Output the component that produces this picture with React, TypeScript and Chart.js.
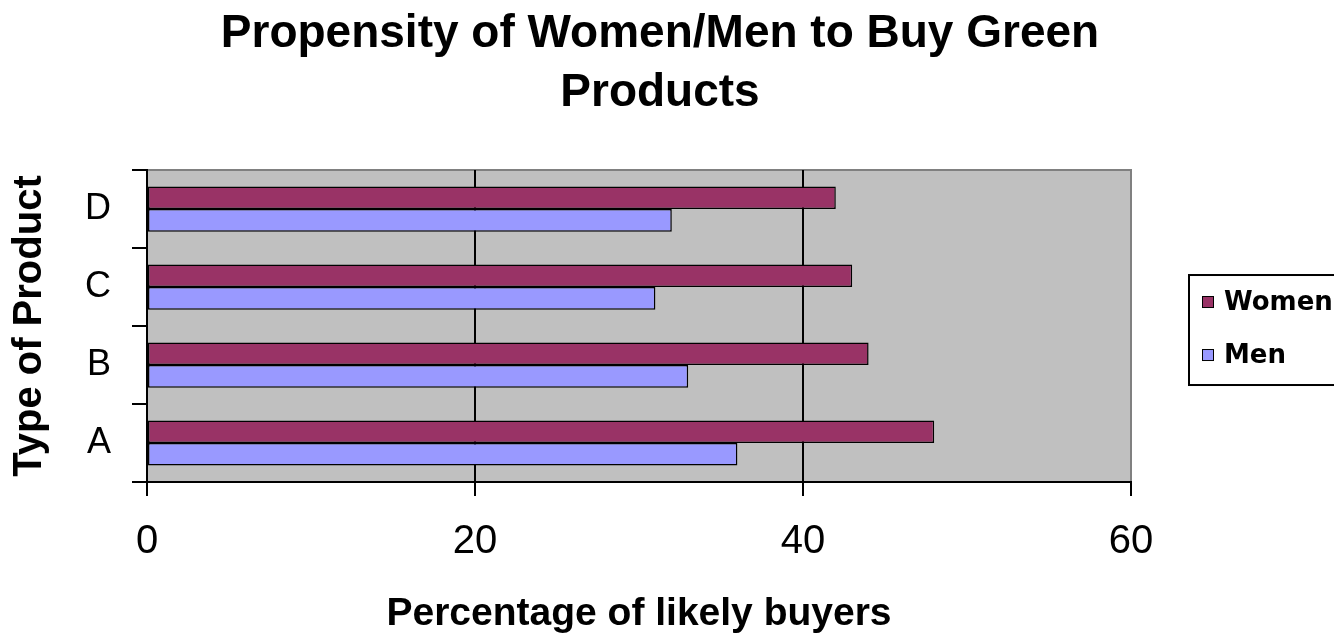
import React, { useEffect, useRef } from 'react';
import { Chart, registerables, layouts } from 'chart.js';

Chart.register(...registerables);

const categories = ['A', 'B', 'C', 'D'];
const womenValues = [48, 44, 43, 42];
const menValues = [36, 33, 31, 32];
const seriesNames = ['Women', 'Men'];
const seriesColors = ['#993366', '#9999FF'];
const xMin = 0;
const xMax = 60;
const xStep = 20;
const titleLines = ['Propensity of Women/Men to Buy Green', 'Products'];
const xTitle = 'Percentage of likely buyers';
const yTitle = 'Type of Product';

const FONT = "'Liberation Sans', Arial, sans-serif";
const LEGEND_FONT = "'DejaVu Sans', sans-serif";
const LEGEND_BOX_WIDTH = 189;

const plotBackground = {
  id: 'plotBackground',
  beforeDraw(chart: any) {
    const { ctx, chartArea: a } = chart;
    ctx.save();
    ctx.fillStyle = '#C0C0C0';
    ctx.fillRect(a.left, a.top, a.right - a.left, a.bottom - a.top);
    ctx.strokeStyle = '#808080';
    ctx.lineWidth = 2;
    ctx.beginPath();
    ctx.moveTo(a.left, a.top);
    ctx.lineTo(a.right, a.top);
    ctx.lineTo(a.right, a.bottom);
    ctx.stroke();
    ctx.restore();
  },
};

const sideLegend = {
  id: 'sideLegend',
  beforeInit(chart: any) {
    const box: any = {
      position: 'right',
      weight: 50,
      fullSize: false,
      options: { stackWeight: 1 },
      left: 0,
      top: 0,
      right: 0,
      bottom: 0,
      width: 0,
      height: 0,
      isHorizontal() {
        return false;
      },
      update(_maxWidth: number, maxHeight: number) {
        this.width = LEGEND_BOX_WIDTH;
        this.height = maxHeight;
      },
      draw() {
        const ctx = chart.ctx;
        const area = chart.chartArea;
        const fx = this.left + 58;
        const cy = (area.top + area.bottom) / 2;
        const fy = cy - 51;
        ctx.save();
        ctx.strokeStyle = '#000';
        ctx.lineWidth = 2;
        ctx.strokeRect(fx, fy, 220, 110);
        chart.data.datasets.forEach((ds: any, i: number) => {
          const yc = fy + 27 + i * 53;
          ctx.fillStyle = ds.backgroundColor;
          ctx.fillRect(fx + 13, yc - 6, 11, 11);
          ctx.strokeStyle = '#000';
          ctx.lineWidth = 1;
          ctx.strokeRect(fx + 13.5, yc - 5.5, 11, 11);
          ctx.fillStyle = '#000';
          ctx.font = `bold 26px ${LEGEND_FONT}`;
          ctx.textBaseline = 'middle';
          ctx.textAlign = 'left';
          ctx.fillText(ds.label, fx + 35, yc + 1);
        });
        ctx.restore();
      },
    };
    layouts.addBox(chart, box);
  },
};

export default function App() {
  const canvasRef = useRef<HTMLCanvasElement | null>(null);

  useEffect(() => {
    const canvas = canvasRef.current;
    if (!canvas) return;
    const chart = new Chart(canvas, {
      type: 'bar',
      data: {
        labels: categories,
        datasets: [
          {
            label: seriesNames[0],
            data: womenValues,
            backgroundColor: seriesColors[0],
            borderColor: '#000',
            borderWidth: 1.5,
            borderSkipped: false,
          },
          {
            label: seriesNames[1],
            data: menValues,
            backgroundColor: seriesColors[1],
            borderColor: '#000',
            borderWidth: 1.5,
            borderSkipped: false,
          },
        ],
      },
      plugins: [plotBackground, sideLegend],
      options: {
        indexAxis: 'y',
        animation: false,
        responsive: false,
        devicePixelRatio: 1,
        layout: { padding: { left: 0, right: 14, top: 0, bottom: 0 } },
        datasets: { bar: { categoryPercentage: 0.58, barPercentage: 1 } },
        plugins: {
          legend: { display: false },
          tooltip: { enabled: false },
          title: {
            display: true,
            text: titleLines,
            color: '#000',
            font: { family: FONT, size: 46, weight: 'bold', lineHeight: 1.283 },
            padding: { top: 5, bottom: 47 },
          },
        },
        scales: {
          x: {
            type: 'linear',
            min: xMin,
            max: xMax,
            grid: {
              color: (c: any) => (c.tick && c.tick.value === xMax ? '#808080' : '#000'),
              lineWidth: 2,
              tickColor: '#000',
              tickLength: 14,
              drawOnChartArea: true,
              drawTicks: true,
            },
            border: { display: true, color: '#000', width: 2 },
            ticks: {
              stepSize: xStep,
              color: '#000',
              font: { family: FONT, size: 40 },
              padding: 22,
              maxRotation: 0,
              autoSkip: false,
            },
            title: {
              display: true,
              text: xTitle,
              color: '#000',
              font: { family: FONT, size: 39, weight: 'bold', lineHeight: 1.0 },
              padding: { top: 0, bottom: 0 },
            },
            afterFit(scale: any) {
              scale.height = 152;
            },
          },
          y: {
            type: 'category',
            labels: categories,
            reverse: true,
            offset: true,
            grid: {
              offset: true,
              drawOnChartArea: false,
              drawTicks: true,
              tickLength: 15,
              color: '#000',
              lineWidth: 2,
            },
            border: { display: true, color: '#000', width: 2 },
            ticks: {
              color: '#000',
              font: { family: FONT, size: 36 },
              padding: 21,
            },
            title: {
              display: true,
              text: yTitle,
              color: '#000',
              font: { family: FONT, size: 40, weight: 'bold' },
              padding: { top: 6, bottom: 0 },
            },
            afterFit(scale: any) {
              scale.width = 147;
            },
          },
        },
      } as any,
    });
    return () => chart.destroy();
  }, []);

  return (
    <div style={{ position: 'absolute', left: 0, top: 0, width: 1334, height: 634, background: '#fff' }}>
      <canvas ref={canvasRef} width={1334} height={634} style={{ display: 'block', width: 1334, height: 634 }} />
    </div>
  );
}
